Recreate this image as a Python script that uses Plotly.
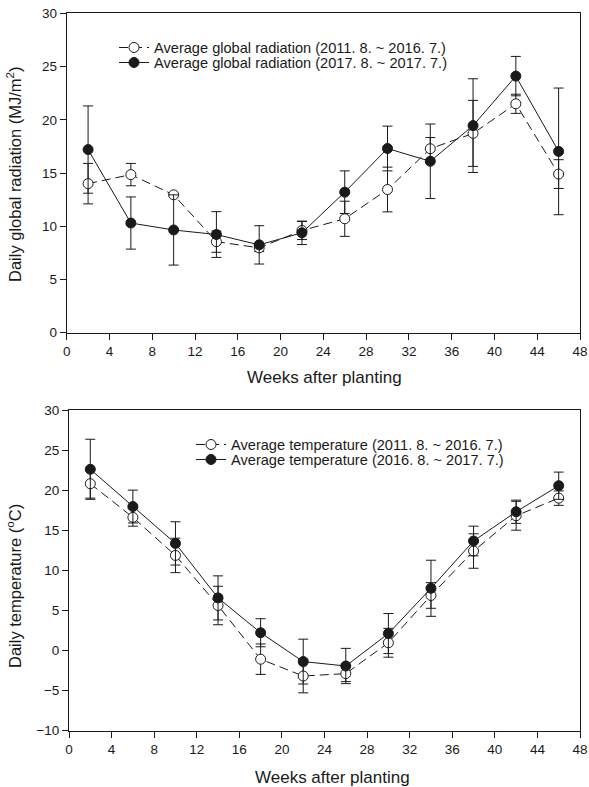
import plotly.graph_objects as go

weeks = [2, 6, 10, 14, 18, 22, 26, 30, 34, 38, 42, 46]

rad_avg = [14.0, 14.85, 12.95, 8.55, 7.97, 9.6, 10.7, 13.45, 17.28, 18.72, 21.5, 14.9]
rad_avg_err = [1.9, 1.05, 0.1, 1.0, 0.35, 0.85, 1.65, 2.1, 1.05, 3.1, 0.9, 1.35]
rad_17 = [17.2, 10.3, 9.65, 9.22, 8.25, 9.38, 13.2, 17.3, 16.1, 19.45, 24.1, 17.03]
rad_17_err = [4.1, 2.45, 3.3, 2.15, 1.8, 1.1, 2.0, 2.1, 3.5, 4.4, 1.85, 5.95]

temp_avg = [20.8, 16.6, 11.85, 5.6, -1.1, -3.2, -2.9, 0.95, 6.85, 12.4, 16.8, 19.0]
temp_avg_err = [1.8, 1.1, 2.15, 2.4, 1.9, 2.1, 1.0, 1.8, 1.6, 2.15, 1.8, 0.9]
temp_16 = [22.6, 17.95, 13.35, 6.55, 2.2, -1.4, -1.95, 2.1, 7.75, 13.65, 17.3, 20.55]
temp_16_err = [3.75, 2.05, 2.7, 2.75, 1.75, 2.8, 2.2, 2.5, 3.5, 1.85, 1.45, 1.7]

names_rad = ["Average global radiation (2011. 8. ~ 2016. 7.)",
             "Average global radiation (2017. 8. ~ 2017. 7.)"]
names_temp = ["Average temperature (2011. 8. ~ 2016. 7.)",
              "Average temperature (2016. 8. ~ 2017. 7.)"]

W, H = 589, 787
INK = "#1a1a1a"
FONT = "Liberation Sans, Arial, sans-serif"

def px_x(p):
    return p / W

def px_y(p):
    return 1 - p / H

def err(arr):
    return dict(type="data", array=arr, visible=True, color=INK, thickness=1, width=5)

def series(x, y, e, name, filled, xa, ya, legend):
    return go.Scatter(
        x=x, y=y, name=name, mode="lines+markers",
        xaxis=xa, yaxis=ya, legend=legend,
        line=dict(color=INK, width=1, dash="solid" if filled else "9px,5px"),
        marker=dict(symbol="circle", size=10,
                    color=INK if filled else "white",
                    line=dict(color=INK, width=1)),
        error_y=err(e),
    )

fig = go.Figure()
fig.add_trace(series(weeks, rad_avg, rad_avg_err, names_rad[0], False, "x", "y", "legend"))
fig.add_trace(series(weeks, rad_17, rad_17_err, names_rad[1], True, "x", "y", "legend2"))
fig.add_trace(series(weeks, temp_avg, temp_avg_err, names_temp[0], False, "x2", "y2", "legend3"))
fig.add_trace(series(weeks, temp_16, temp_16_err, names_temp[1], True, "x2", "y2", "legend4"))

axis_common = dict(showline=True, mirror=True, linecolor=INK, linewidth=1,
                   ticks="outside", ticklen=6, tickwidth=1, tickcolor=INK,
                   showgrid=False, zeroline=False, automargin=False,
                   tickfont=dict(family=FONT, size=13.5, color=INK))

def leg(xp, row_y):
    return dict(x=px_x(xp), y=px_y(row_y), xanchor="left", yanchor="middle",
                bgcolor="rgba(0,0,0,0)", borderwidth=0,
                font=dict(family=FONT, size=14.6, color=INK))

fig.update_layout(
    width=W, height=H,
    margin=dict(l=0, r=0, t=0, b=0),
    paper_bgcolor="white", plot_bgcolor="white",
    font=dict(family=FONT, color=INK),
    xaxis=dict(domain=[px_x(66.7), px_x(580)], range=[0, 48], tickvals=list(range(0, 49, 4)),
               anchor="y", **axis_common),
    yaxis=dict(domain=[px_y(332.7), px_y(13.3)], range=[0, 30], tickvals=list(range(0, 31, 5)),
               anchor="x", **axis_common),
    xaxis2=dict(domain=[px_x(69), px_x(580)], range=[0, 48], tickvals=list(range(0, 49, 4)),
                anchor="y2", **axis_common),
    yaxis2=dict(domain=[px_y(730.5), px_y(410)], range=[-10, 30], tickvals=list(range(-10, 31, 5)),
                anchor="x2", **axis_common),
    legend=leg(114, 47.5),
    legend2=leg(114, 62.5),
    legend3=leg(191, 444.5),
    legend4=leg(191, 459.5),
    showlegend=True,
)

title_font = dict(family=FONT, size=17, color=INK)
ytitle_font = dict(family=FONT, size=16.5, color=INK)
annotations = [
    dict(text="Daily global radiation (MJ/m<sup>2</sup>)", x=px_x(14), y=px_y(174),
         textangle=-90, font=ytitle_font),
    dict(text="Weeks after planting", x=px_x(324), y=px_y(378), font=title_font),
    dict(text="Daily temperature (<sup>o</sup>C)", x=px_x(14), y=px_y(586),
         textangle=-90, font=ytitle_font),
    dict(text="Weeks after planting", x=px_x(332), y=px_y(777), font=title_font),
]
for a in annotations:
    a.update(xref="paper", yref="paper", showarrow=False, xanchor="center", yanchor="middle")
fig.update_layout(annotations=annotations)

fig.write_html("out.html", config={"displayModeBar": False},
               post_script="document.body.style.margin='0';document.body.style.overflow='hidden';")
